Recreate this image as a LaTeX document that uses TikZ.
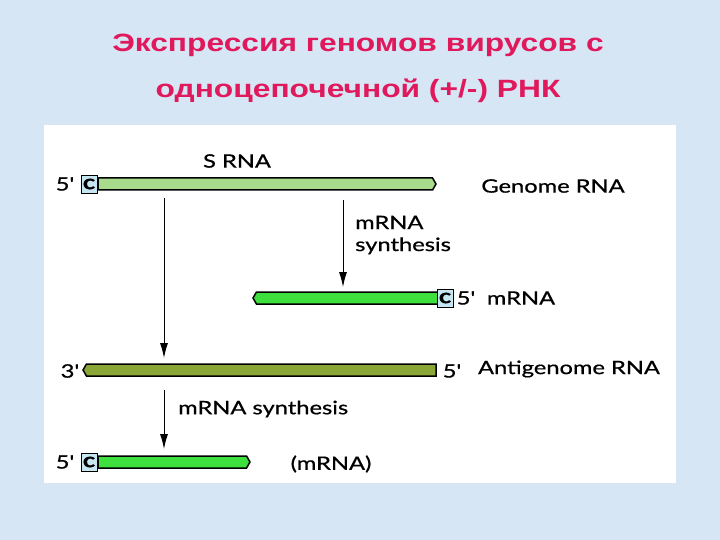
\documentclass[tikz,border=0pt]{standalone}
\usepackage{fontspec}
\setmainfont{Liberation Sans}
\newfontfamily\titlefont[FakeStretch=1.27]{Liberation Sans}
\newfontfamily\gill[FakeStretch=1.28,FakeBold=0.7]{Lato}
\usepackage{tikz}
\usetikzlibrary{arrows.meta,shapes.symbols}

\definecolor{slidebg}{HTML}{D7E6F4}
\definecolor{titlered}{HTML}{E0185C}
\definecolor{palegreen}{HTML}{A9DB8D}
\definecolor{brightgreen}{HTML}{3EE03E}
\definecolor{olivegreen}{HTML}{8AA636}
\definecolor{capblue}{HTML}{C6E6F2}

\tikzset{
	rnabar/.style={signal, draw=black, line width=1.5pt, inner sep=0pt, outer sep=0pt,
		minimum height=12pt, signal pointer angle=120},
	capbox/.style={draw=black, fill=capblue, line width=0.6pt, inner sep=0pt,
		minimum width=16pt, minimum height=18pt, font=\gill\bfseries\fontsize{20}{20}\selectfont},
	lbl/.style={font=\gill\fontsize{18.5}{22}\selectfont, inner sep=0pt},
	heading/.style={titlered, font=\titlefont\bfseries\fontsize{25}{25}\selectfont, anchor=base},
	synth/.style={-{Latex[length=15pt,width=8pt]}, line width=0.9pt}
}

\begin{document}
\begin{tikzpicture}[x=1pt,y=-1pt]
	\fill[slidebg] (0,0) rectangle (720,540);
	\fill[white] (44,125) rectangle (676,483);
	\useasboundingbox (0,0) rectangle (720,540);

	\node [heading](T1) at (358,52) {Экспрессия геномов вирусов с};
	\node [heading](T2) at (358,98) {одноцепочечной (+/-) РНК};

	\node [rnabar,fill=palegreen,signal to=east,minimum width=338pt,anchor=west](genome) at (98,184) {};
	\node [rnabar,fill=brightgreen,signal to=west,minimum width=185pt,anchor=east](mrna) at (438,298) {};
	\node [rnabar,fill=olivegreen,signal to=west,minimum width=353pt,anchor=east](anti) at (436,370) {};
	\node [rnabar,fill=brightgreen,signal to=east,minimum width=152pt,anchor=west](mrnab) at (98,462) {};

	\node [capbox](c1) at (89,184) {c};
	\node [capbox](c2) at (445,298) {c};
	\node [capbox](c3) at (89,462) {c};

	\node [lbl](p1) at (65,184) {5'};
	\node [lbl](srna) at (237,161) {S RNA};
	\node [lbl](glbl) at (553,186) {Genome RNA};
	\node [lbl,align=left,anchor=west](ms1) at (355,235) {mRNA\\synthesis};
	\node [lbl](p2) at (466,298) {5'};
	\node [lbl](mlbl) at (521,298) {mRNA};
	\node [lbl](p3) at (70,371) {3'};
	\node [lbl](p4) at (452,371) {5'};
	\node [lbl](alb) at (569,369) {Antigenome RNA};
	\node [lbl,anchor=west](ms2) at (178,409) {mRNA synthesis};
	\node [lbl](p5) at (65,462) {5'};
	\node [lbl](blbl) at (331,464) {(mRNA)};

	\coordinate (a1) at (164,198);
	\coordinate (a2) at (164,358);
	\coordinate (b1) at (343,200);
	\coordinate (b2) at (343,287);
	\coordinate (d1) at (164,390);
	\coordinate (d2) at (164,449);

	\draw [synth] (a1) -- (a2);
	\draw [synth] (b1) -- (b2);
	\draw [synth] (d1) -- (d2);
\end{tikzpicture}
\end{document}
